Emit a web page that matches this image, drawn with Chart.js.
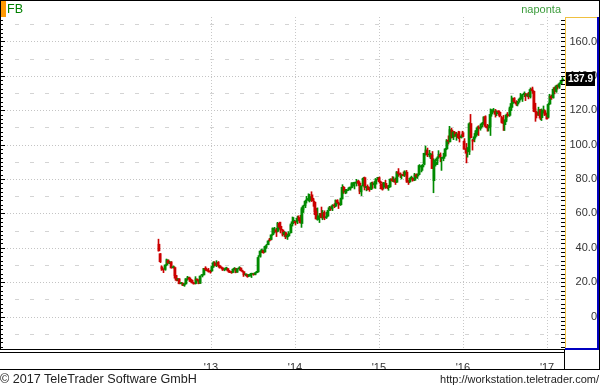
<!DOCTYPE html>
<html><head><meta charset="utf-8">
<script src="https://cdn.jsdelivr.net/npm/chart.js@4/dist/chart.umd.min.js"></script>
<style>
html,body{margin:0;padding:0;background:#fff;}
#wrap{position:relative;width:600px;height:387px;overflow:hidden;font-family:"Liberation Sans",Arial,sans-serif;}
canvas{position:absolute;left:0;top:0;}
.t{position:absolute;white-space:nowrap;line-height:14px;}
</style></head><body>
<div id="wrap">
<canvas id="c" width="600" height="387"></canvas>
<div style="position:absolute;left:1px;top:1px;width:5px;height:16px;background:#ff9900"></div>
<div class="t" style="left:7px;top:2px;font-size:12.5px;color:#008000">FB</div>
<div class="t" style="right:39px;top:2px;font-size:11px;color:#3c9c3c">naponta</div>
<div class="t" style="left:0;top:372px;font-size:12.6px;color:#222">© 2017 TeleTrader Software GmbH</div>
<div class="t" style="right:1px;top:372px;font-size:11px;color:#222">http://workstation.teletrader.com/</div>
</div>
<script>
// ---- data: FB weekly candles, first week ending 2012-05-18 ----
const firstWeek = '2012-05-18';
const opens = [
42.05,36.53,28.89,27.20,27.40,30.10,32.60,31.25,31.60,28.40,28.50,23.80,21.50,21.90,19.10,19.40,18.10,18.96,22.10,22.50,21.60,20.90,19.50,19.20,21.50,21.00,19.40,23.90,24.20,28.00,27.30,26.90,26.10,
26.50,28.70,31.10,29.80,31.50,29.60,28.40,28.30,27.10,27.80,27.90,26.60,25.80,25.60,27.40,28.00,25.80,27.80,28.20,26.60,26.10,24.30,24.30,23.40,24.00,24.60,24.90,24.50,25.50,26.00,35.00,38.30,38.40,37.50,40.50,41.80,44.50,44.90,47.60,50.80,50.50,49.50,54.20,52.50,50.30,47.80,48.80,46.30,46.90,48.70,53.80,55.40,
55.30,54.90,57.60,56.40,54.10,62.30,64.50,67.60,68.10,67.50,70.80,68.00,66.50,61.20,56.40,57.60,60.00,57.80,60.50,57.50,58.40,61.70,63.40,62.80,64.40,64.20,67.60,66.00,65.00,68.60,75.20,72.50,73.10,73.90,74.80,75.00,77.30,77.50,78.00,78.80,77.60,72.50,76.00,80.80,75.00,75.60,74.80,74.00,77.30,76.60,77.00,80.40,
80.70,77.80,77.20,75.20,77.50,75.70,75.00,75.60,80.10,79.00,79.60,78.10,84.20,83.20,81.90,82.20,82.20,84.00,78.90,78.30,80.50,80.40,79.30,82.50,81.70,82.70,87.00,87.00,88.60,95.00,96.50,94.00,94.00,94.00,79.00,88.30,90.50,92.80,94.00,92.00,92.00,93.50,97.50,102.50,101.60,108.50,104.20,107.10,104.80,106.30,104.50,104.20,
107.00,101.95,97.70,96.00,95.80,112.30,102.50,103.00,104.80,107.80,109.50,109.50,111.40,112.80,116.30,110.80,109.70,110.30,117.80,119.80,119.50,118.00,119.40,118.80,115.80,113.50,111.60,114.20,117.50,117.00,121.50,124.00,126.90,124.80,123.60,125.30,126.80,126.50,129.10,129.50,128.40,128.60,127.80,132.50,131.00,120.80,118.90,117.30,120.20,115.70,119.60,119.80,117.00,
116.00,123.60,128.10,127.30,132.20,131.00,134.10,133.50,135.50,137.40];
const highs = [
45.00,36.66,29.55,27.76,30.10,33.45,33.00,32.18,32.00,29.50,29.00,23.95,22.05,22.00,19.90,19.60,19.00,22.00,23.37,22.95,22.38,21.20,19.90,23.20,21.80,21.38,23.70,24.40,28.00,29.00,28.20,28.00,27.00,
29.20,31.96,31.90,32.50,32.00,29.90,28.80,28.40,27.90,28.70,28.10,26.80,26.30,27.60,28.50,28.10,27.80,29.00,28.50,27.00,26.20,24.70,24.50,24.50,25.10,25.20,25.00,25.60,26.30,35.45,38.30,39.30,38.60,40.80,41.94,44.40,45.50,47.60,51.60,51.90,51.30,54.80,54.90,54.90,50.70,49.50,49.00,47.80,49.40,53.90,57.90,57.60,
55.70,58.40,58.60,58.90,63.37,64.80,67.60,69.90,71.40,71.10,72.59,68.80,67.00,63.00,63.20,60.00,63.70,61.70,61.50,60.60,61.80,64.10,63.80,65.10,65.70,67.90,68.00,66.60,68.90,76.70,75.70,74.00,74.00,75.00,75.20,77.90,78.00,78.20,79.80,79.20,78.50,75.98,80.90,81.16,75.70,76.60,75.20,78.10,78.30,78.60,80.30,81.00,
81.20,78.80,77.80,78.00,79.20,76.20,76.40,80.20,81.40,81.20,80.60,84.40,86.07,83.60,82.50,84.10,84.80,85.00,79.10,80.50,81.70,80.90,83.30,83.00,83.00,88.40,88.00,88.50,95.00,99.24,98.00,96.70,95.00,96.00,91.80,91.60,93.00,96.50,95.20,92.60,95.00,97.90,103.00,105.12,110.65,109.50,107.70,107.70,107.20,107.80,107.60,105.80,
107.80,103.50,100.70,98.30,112.80,117.59,103.20,106.50,108.20,110.50,111.00,112.00,113.00,116.20,116.80,111.80,111.30,120.79,120.40,121.08,120.50,119.60,119.80,119.50,116.50,117.00,114.50,117.80,118.70,121.90,128.30,127.20,127.40,125.60,125.20,127.10,129.80,129.30,130.70,129.80,129.70,130.40,133.00,133.50,131.50,124.10,119.30,121.80,120.50,120.80,122.50,120.30,118.40,
124.20,129.30,128.90,133.14,133.50,134.60,134.80,136.00,137.50,139.00];
const lows = [
38.00,31.36,26.83,25.52,26.90,29.50,30.90,30.70,28.10,28.10,22.28,20.71,20.80,19.00,18.85,18.03,17.55,18.70,21.10,20.35,20.15,19.45,18.85,18.90,20.55,19.00,19.20,23.00,24.10,26.76,26.60,25.80,25.20,
26.11,28.60,29.40,29.00,28.74,28.10,27.70,26.75,26.60,27.10,26.40,25.50,25.10,25.40,27.00,25.40,25.70,27.00,26.60,25.80,23.30,23.80,22.79,23.20,23.50,22.67,24.00,24.20,25.30,25.90,34.50,37.20,36.80,37.30,39.60,41.70,43.80,44.60,47.20,48.50,46.50,49.20,50.80,48.60,46.80,46.50,45.26,44.82,46.40,48.50,52.60,54.00,
53.20,54.00,55.80,54.40,51.85,60.50,63.30,66.00,67.20,66.60,66.90,64.10,59.20,56.60,56.00,54.66,57.30,56.30,56.30,57.00,57.98,61.60,61.70,61.60,63.30,63.90,65.60,62.80,64.60,68.30,71.60,71.40,71.80,73.30,73.50,74.70,75.90,74.20,75.90,76.20,71.40,70.32,75.80,73.62,73.10,73.60,72.80,73.80,74.50,74.80,74.50,79.40,
77.60,74.30,73.50,74.20,74.50,74.30,73.40,75.30,78.50,78.30,76.80,77.90,81.50,80.80,80.00,81.80,81.40,78.00,76.80,77.80,79.80,78.70,79.00,80.60,80.30,82.50,84.10,85.00,88.20,93.90,93.00,92.80,91.80,86.00,72.00,87.50,88.40,92.00,90.00,85.00,90.60,93.20,97.00,100.30,101.50,103.90,102.90,104.70,102.50,103.50,101.50,103.80,
104.40,97.30,89.37,92.70,94.20,103.80,96.82,101.60,103.80,105.70,105.30,108.40,110.40,111.80,110.00,107.80,107.90,105.30,116.50,118.80,116.00,116.80,117.10,116.10,112.60,108.23,108.20,113.30,116.00,116.40,119.80,121.70,124.30,122.70,122.50,124.60,126.00,125.10,127.90,125.60,127.80,126.60,127.10,129.80,119.20,113.55,115.50,116.90,114.50,114.00,118.30,116.90,114.80,
115.50,123.20,126.30,127.00,129.50,130.40,132.30,132.70,135.00,136.90];
const closes = [
38.23,31.91,27.72,27.10,30.01,33.05,31.10,31.73,28.25,28.76,23.71,21.09,21.81,19.05,19.41,18.06,18.98,22.00,22.86,21.66,20.91,19.52,19.00,21.94,21.18,19.21,23.56,24.00,28.00,27.49,26.81,26.26,25.91,
28.76,31.30,29.66,31.54,29.73,28.55,28.32,27.13,27.78,27.96,26.65,25.73,25.58,27.39,28.02,25.73,27.76,28.31,26.68,26.25,24.31,24.35,23.29,24.03,24.53,24.88,24.37,25.48,25.88,34.36,38.05,38.50,37.08,40.55,41.29,43.95,44.31,47.49,51.24,51.04,49.11,54.22,51.95,50.23,47.53,49.01,46.23,47.01,48.34,53.32,55.12,55.44,
54.56,57.22,56.30,54.45,62.57,64.32,67.09,68.06,68.46,69.80,67.72,67.24,60.97,56.75,58.53,58.94,57.71,60.46,57.24,58.02,61.35,63.30,62.50,64.50,64.34,67.60,66.29,64.97,68.42,75.19,72.36,73.06,73.63,74.57,74.82,77.26,77.48,77.91,78.79,77.44,72.91,75.95,80.42,74.99,75.60,74.88,73.75,77.70,76.84,77.73,79.88,80.78,
78.45,77.74,74.05,77.83,75.91,74.99,75.74,79.90,78.97,80.01,78.05,83.80,83.30,82.32,82.04,82.04,84.16,78.77,78.10,80.41,80.55,79.19,82.44,81.61,82.51,87.88,87.55,87.95,94.97,96.95,94.01,94.30,94.19,86.06,91.01,89.73,92.31,94.40,92.77,92.07,93.24,97.54,102.19,101.97,108.76,103.95,107.32,105.45,106.18,104.04,104.04,105.02,
104.66,97.33,94.97,97.94,112.21,104.07,102.01,104.57,107.92,109.82,109.41,111.02,112.54,116.06,110.63,109.64,110.10,117.58,119.81,119.81,117.65,119.47,118.93,116.62,113.02,112.33,114.19,117.24,116.86,121.00,123.94,126.95,124.96,123.56,124.96,126.51,127.10,129.07,129.94,128.27,128.99,127.88,132.07,131.29,120.75,119.02,117.02,120.38,115.40,119.68,119.87,117.27,115.05,
123.41,128.34,127.04,132.18,130.98,134.19,133.53,135.44,137.42,137.90];
const yearTicks = [2013, 2014, 2015, 2016, 2017];
const priceTicks = [0, 20, 40, 60, 80, 100, 120, 140, 160];
const minorGrid = [-10, 10, 30, 50, 70, 90, 110, 130, 150, 170];
const xRange = ['2010-07-16', '2017-03-20'];
const yRange = [-18.9, 174.25];
const lastPrice = 137.9;

// ---- rendering ----
const DAY = 86400000;
const dayOf = s => Date.parse(s + 'T00:00:00Z') / DAY;
const GREEN = '#008a00', RED = '#cc0000';
const start = dayOf(firstWeek);
const xs = closes.map((_, i) => start + 7 * i);
const cols = closes.map((c, i) => c >= opens[i] ? GREEN : RED);
const FONT = '"Liberation Sans", Arial, sans-serif';

const deco = {
  id: 'deco',
  afterDatasetsUpdate(chart) {
    chart.data.datasets.forEach((ds, di) => {
      chart.getDatasetMeta(di).data.forEach(el => {
        el.x = di === 0 ? Math.floor(el.x) + 0.5 : Math.round(el.x);
      });
    });
  },
  beforeDatasetsDraw(chart) {
    const {ctx, chartArea: a, scales: {x, y}} = chart;
    ctx.save();
    ctx.beginPath(); ctx.rect(a.left, a.top, a.right - a.left, a.bottom - a.top); ctx.clip();
    ctx.lineWidth = 1;
    const hline = (v, dash, off, col) => {
      const py = Math.round(y.getPixelForValue(v)) + 0.5;
      ctx.setLineDash(dash); ctx.lineDashOffset = off; ctx.strokeStyle = col;
      ctx.beginPath(); ctx.moveTo(a.left, py); ctx.lineTo(a.right, py); ctx.stroke();
    };
    minorGrid.forEach(v => hline(v, [4, 11], a.left, '#d4d4d4'));
    priceTicks.forEach(v => hline(v, [1, 2], 0, '#c4c4c4'));
    ctx.setLineDash([1, 2]); ctx.strokeStyle = '#c8c8c8';
    x.ticks.forEach(t => {
      const px = Math.round(x.getPixelForValue(t.value)) + 0.5;
      ctx.beginPath(); ctx.moveTo(px, a.top); ctx.lineTo(px, a.bottom); ctx.stroke();
    });
    ctx.restore();
  },
  afterDraw(chart) {
    const {ctx, chartArea: a, scales: {y}} = chart;
    ctx.save();
    // axis tick marks (every 2.5 units)
    ctx.fillStyle = '#000';
    for (let v = -17.5; v <= 172.5; v += 2.5) {
      const py = Math.round(y.getPixelForValue(v));
      const major = Math.abs(v % 20) < 0.01;
      ctx.fillRect(0, py, major ? 5 : 3, 1);
      ctx.fillRect(a.right - 4, py, 4, 1);
    }
    // frame
    ctx.fillRect(0, 0, 600, 1);
    ctx.fillRect(599, 0, 1, 370);
    ctx.fillRect(0, a.bottom, a.right, 1);
    ctx.fillRect(0, a.bottom + 3, a.right, 1);
    ctx.fillRect(a.right - 1, a.bottom, 1, 20);
    ctx.fillRect(0, 369, 600, 1);
    ctx.fillRect(0, 0, 1, a.bottom);
    // right price panel
    ctx.fillStyle = '#f0c040';
    ctx.fillRect(a.right, a.top, 32, 1);
    ctx.fillRect(a.right, a.top, 1, a.bottom - a.top);
    ctx.fillStyle = '#0000c0';
    ctx.fillRect(597, a.top, 2, a.bottom - a.top + 1);
    ctx.fillRect(a.right, a.bottom - 1, 34, 2);
    // last price box
    const py = Math.round(y.getPixelForValue(lastPrice));
    ctx.fillStyle = '#000';
    ctx.fillRect(a.right + 1, py - 7, 29, 14);
    ctx.fillStyle = '#fff';
    ctx.font = 'bold 10px ' + FONT;
    ctx.textAlign = 'center'; ctx.textBaseline = 'middle';
    ctx.fillText(lastPrice.toFixed(1), a.right + 15.5, py + 0.5);
    ctx.restore();
  }
};

new Chart(document.getElementById('c'), {
  type: 'bar',
  data: {
    datasets: [
      {data: xs.map((x, i) => ({x, y: [lows[i], highs[i]]})), backgroundColor: cols, barThickness: 1, grouped: false, order: 2},
      {data: xs.map((x, i) => ({x, y: [opens[i], closes[i]]})), backgroundColor: cols, barThickness: 2, grouped: false, minBarLength: 1, order: 1}
    ]
  },
  options: {
    responsive: false, animation: false, events: [],
    layout: {padding: {left: 4, top: 17, right: 3, bottom: 18}},
    plugins: {legend: {display: false}, tooltip: {enabled: false}},
    scales: {
      x: {
        type: 'linear', min: dayOf(xRange[0]), max: dayOf(xRange[1]), offset: false,
        grid: {display: false}, border: {display: false},
        afterBuildTicks: s => { s.ticks = yearTicks.map(yr => ({value: dayOf(yr + '-01-01')})); },
        ticks: {autoSkip: false, maxRotation: 0, padding: 4, color: '#333', font: {family: FONT, size: 11},
          callback: v => "'" + String(new Date(v * DAY).getUTCFullYear()).slice(2)},
        afterFit: s => { s.height = 20; }
      },
      y: {
        position: 'right', min: yRange[0], max: yRange[1],
        grid: {display: false}, border: {display: false},
        afterBuildTicks: s => { s.ticks = priceTicks.map(v => ({value: v})); },
        ticks: {crossAlign: 'far', padding: 3.5, color: '#333', font: {family: FONT, size: 11},
          callback: v => v === 0 ? '0' : v.toFixed(1)},
        afterFit: s => { s.width = 32; }
      }
    }
  },
  plugins: [deco]
});
</script>
</body></html>
